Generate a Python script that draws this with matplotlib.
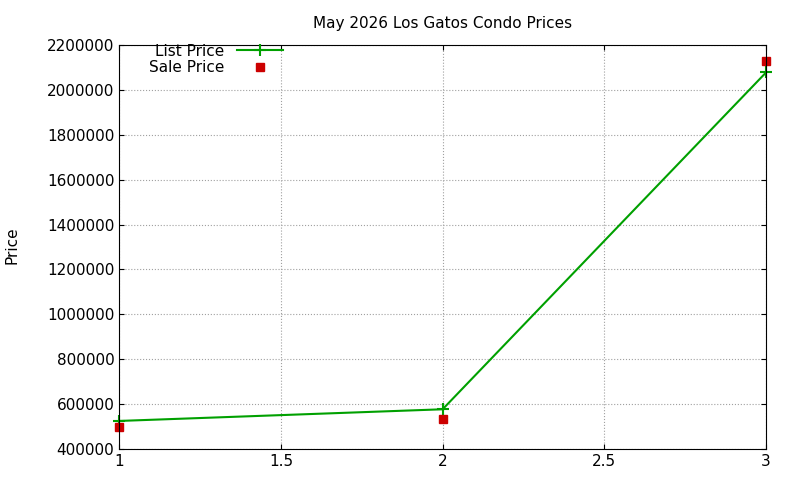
import matplotlib
matplotlib.use('Agg')
from matplotlib import pyplot as plt

x = [1, 2, 3]
list_price = [525000, 577000, 2078000]
sale_price = [497000, 533000, 2127000]
yticks = list(range(400000, 2200001, 200000))
xticks = [1, 1.5, 2, 2.5, 3]

fig = plt.figure(figsize=(8, 4.8), dpi=100)
ax = fig.add_axes([0.149, 0.0646, 0.8085, 0.8414])
ax.plot(x, list_price, color='#00a000', lw=1.5, marker='+', ms=8, mew=1.5, label='List Price', clip_on=False)
ax.plot(x, sale_price, ls='none', marker='s', color='#cc0000', ms=6, label='Sale Price', clip_on=False)
ax.set_xlim(1, 3)
ax.set_ylim(400000, 2200000)
ax.set_xticks(xticks)
ax.set_xticklabels(['1', '1.5', '2', '2.5', '3'])
ax.set_yticks(yticks)
ax.set_yticklabels([str(v) for v in yticks])
ax.tick_params(direction='in', top=True, right=True, labelsize=11)
ax.grid(True, color='#a0a0a0', ls=':', lw=0.8)
fig.text(0.015, 0.49, 'Price', rotation=90, fontsize=11, va='center', ha='center')
ax.set_title('May 2026 Los Gatos Condo Prices', fontsize=11, pad=12)
ax.legend(loc='upper left', bbox_to_anchor=(0.03, 1.03), frameon=False, markerfirst=False,
          fontsize=11, handlelength=3, labelspacing=0.1, borderaxespad=0.3)
plt.savefig('out.png', dpi=100)
